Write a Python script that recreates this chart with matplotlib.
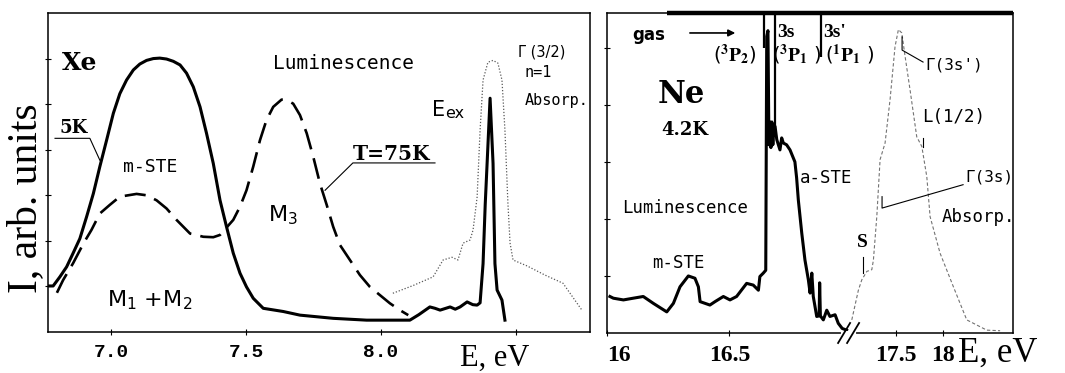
import numpy as np
import matplotlib
matplotlib.use("Agg")
import matplotlib.pyplot as plt

plt.rcParams['font.family'] = ['DejaVu Sans']

# ---------------- Xe panel data ----------------
# luminescence at 5 K (solid)
xe5_E = [6.768, 6.786, 6.811, 6.836, 6.860, 6.885, 6.910, 6.935, 6.959, 6.984,
         7.009, 7.033, 7.058, 7.083, 7.107, 7.132, 7.157, 7.181, 7.206, 7.231,
         7.256, 7.280, 7.305, 7.330, 7.354, 7.379, 7.404, 7.428, 7.453, 7.478,
         7.502, 7.527, 7.564, 7.638, 7.700, 7.823, 7.947, 8.107, 8.140, 8.181,
         8.200, 8.219, 8.256, 8.275, 8.293, 8.319, 8.340, 8.356, 8.367, 8.378,
         8.386, 8.393, 8.404, 8.415, 8.422, 8.430, 8.448, 8.459]
xe5_I = [1.01, 1.01, 1.21, 1.43, 1.73, 2.05, 2.53, 3.04, 3.63, 4.21,
         4.80, 5.23, 5.53, 5.75, 5.88, 5.96, 6.00, 6.01, 5.99, 5.94,
         5.86, 5.68, 5.38, 4.94, 4.36, 3.70, 2.89, 2.31, 1.73, 1.29,
         0.99, 0.74, 0.52, 0.45, 0.37, 0.30, 0.26, 0.26, 0.38, 0.55,
         0.52, 0.48, 0.55, 0.50, 0.55, 0.66, 0.60, 0.59, 0.64, 1.50,
         2.80, 3.70, 5.13, 3.70, 1.50, 0.92, 0.70, 0.26]

# luminescence at 75 K (dashed)
xe75_E = [6.800, 6.823, 6.860, 6.898, 6.928, 6.959, 6.996, 7.033, 7.095, 7.132,
          7.169, 7.206, 7.243, 7.293, 7.342, 7.379, 7.404, 7.453, 7.478, 7.502,
          7.527, 7.552, 7.576, 7.601, 7.632, 7.651, 7.675, 7.700, 7.725, 7.749,
          7.774, 7.799, 7.823, 7.848, 7.885, 7.922, 7.959, 7.996, 8.033, 8.070,
          8.101]
xe75_I = [0.86, 1.14, 1.51, 1.94, 2.24, 2.60, 2.79, 2.97, 3.03, 3.00,
          2.89, 2.71, 2.46, 2.16, 2.09, 2.08, 2.13, 2.46, 2.75, 3.11,
          3.63, 4.21, 4.65, 4.94, 5.10, 5.09, 5.01, 4.76, 4.36, 3.85,
          3.26, 2.79, 2.31, 1.91, 1.58, 1.25, 0.99, 0.81, 0.63, 0.48,
          0.37]

# absorption (dotted)
xeabs_E = [8.044, 8.119, 8.193, 8.230, 8.263, 8.285, 8.304, 8.330, 8.341, 8.356,
           8.367, 8.378, 8.396, 8.415, 8.433, 8.448, 8.459, 8.470, 8.478, 8.489,
           8.541, 8.607, 8.674, 8.744]
xeabs_I = [0.85, 1.02, 1.21, 1.58, 1.64, 1.58, 1.95, 2.02, 2.24, 2.96,
           4.43, 5.53, 5.92, 5.96, 5.90, 5.53, 4.43, 2.83, 1.95, 1.58,
           1.45, 1.25, 1.07, 0.48]

xe_ticks = [7.0, 7.5, 8.0, 8.5]
xe_ticklabels = ['7.0', '7.5', '8.0', '']

# ---------------- Ne panel data ----------------
ne_lum_E = [16.012, 16.026, 16.067, 16.107, 16.148, 16.189, 16.244, 16.271, 16.298, 16.332,
            16.359, 16.373, 16.380, 16.420, 16.441, 16.475, 16.502, 16.529, 16.570, 16.597,
            16.618, 16.624, 16.638, 16.648, 16.652, 16.657, 16.661, 16.665, 16.669, 16.673,
            16.677, 16.681, 16.686, 16.693, 16.706, 16.713, 16.720, 16.733, 16.747, 16.767,
            16.774, 16.781, 16.795, 16.808, 16.822, 16.829, 16.836, 16.842, 16.856, 16.866,
            16.868, 16.871, 16.883, 16.897, 16.910, 16.931, 16.944, 16.960, 16.978]
ne_lum_I = [0.64, 0.61, 0.58, 0.61, 0.64, 0.52, 0.37, 0.52, 0.81, 1.00,
            0.96, 0.81, 0.55, 0.49, 0.55, 0.64, 0.58, 0.64, 0.87, 0.84,
            0.75, 0.99, 1.05, 1.10, 5.20, 5.30, 3.30, 3.70, 3.25, 3.70,
            3.30, 3.65, 3.62, 3.39, 3.21, 3.42, 3.33, 3.30, 3.21, 3.00,
            2.72, 2.33, 1.75, 1.28, 0.93, 0.70, 1.05, 0.64, 0.29, 0.30,
            0.88, 0.30, 0.23, 0.40, 0.29, 0.32, 0.17, 0.08, 0.05]

ne_abs_E = [17.030, 17.100, 17.136, 17.190, 17.243, 17.260, 17.296, 17.331, 17.384, 17.437,
            17.490, 17.526, 17.562, 17.597, 17.650, 17.721, 17.775, 17.828, 17.863, 17.969,
            18.111, 18.253, 18.466, 18.608]
ne_abs_I = [0.23, 0.75, 0.93, 1.08, 1.11, 1.28, 2.04, 3.04, 3.33, 4.09,
            5.02, 5.32, 5.26, 4.85, 4.26, 3.44, 3.27, 2.74, 2.04, 1.40,
            0.81, 0.23, 0.05, 0.04]

# free-atom lines of Ne gas: (energy, lower end of marker)
gas_E = [16.640, 16.686, 16.873]
gas_low = [5.00, 3.50, 4.84]

ne_ticks = [16.0, 16.5, 17.5, 18.0]
ne_ticklabels = ['16', '16.5', '17.5', '18']

# piecewise-linear energy axis with a compressed part above the break
E_BREAK = 16.98


def fwd(e):
    e = np.asarray(e, dtype=float)
    return np.where(e <= E_BREAK, (e - 16.0) * 245.0,
                    (E_BREAK - 16.0) * 245.0 + (e - E_BREAK) * 94.0)


def inv(u):
    u = np.asarray(u, dtype=float)
    u0 = (E_BREAK - 16.0) * 245.0
    return np.where(u <= u0, 16.0 + u / 245.0, E_BREAK + (u - u0) / 94.0)


fig = plt.figure(figsize=(10.65, 3.73), dpi=100)
ax1 = fig.add_axes([0.04507, 0.10992, 0.50892, 0.85523])
ax2 = fig.add_axes([0.56995, 0.10724, 0.38122, 0.85791])

serif = 'Liberation Serif'
bserif = 'DejaVu Serif'
mono = 'DejaVu Sans Mono'

# ---------------- Xe ----------------
ax1.plot(xe5_E, xe5_I, color='black', lw=2.2, solid_joinstyle='round')
ax1.plot(xe75_E, xe75_I, color='black', lw=1.9, linestyle=(0, (8, 3.5)))
ax1.plot(xeabs_E, xeabs_I, color='0.35', lw=0.9, linestyle=(0, (1, 1.5)))
ax1.set_xlim(6.767, 8.774)
ax1.set_ylim(0, 7.0)
ax1.set_xticks(xe_ticks)
ax1.set_xticklabels(xe_ticklabels, family='Liberation Mono', weight='bold', fontsize=14)
ax1.set_yticks([1, 2, 3, 4, 5, 6])
ax1.set_yticklabels([])
ax1.tick_params(direction='inout', length=5, width=0.8, pad=6)

ax1.text(6.819, 5.9, 'Xe', family=bserif, weight='bold', fontsize=18, va='center')
ax1.text(7.60, 5.9, 'Luminescence', family=mono, fontsize=14, va='center')
ax1.text(6.808, 4.47, '5K', family=bserif, weight='bold', fontsize=13, va='center')
ax1.plot([6.793, 6.922, 6.959], [4.25, 4.25, 3.77], color='black', lw=0.8)
ax1.text(7.144, 3.62, 'm-STE', family=mono, fontsize=13, ha='center', va='center')
ax1.text(6.985, 0.70, r'M$_1$ +M$_2$', fontsize=16, va='center')
ax1.text(7.581, 2.57, r'M$_3$', fontsize=16, va='center')
ax1.text(7.896, 3.90, 'T=75K', family=bserif, weight='bold', fontsize=14.5, va='center')
ax1.plot([8.20, 7.896, 7.793], [3.71, 3.71, 3.11], color='black', lw=0.8)
ax1.text(8.189, 4.87, 'E', fontsize=15, va='center')
ax1.text(8.237, 4.80, 'ex', fontsize=11.5, va='center')
ax1.text(8.507, 6.14, 'Γ (3/2)', fontsize=10.5, va='center')
ax1.text(8.533, 5.70, 'n=1', family=mono, fontsize=11, va='center')
ax1.text(8.533, 5.07, 'Absorp.', family=mono, fontsize=11, va='center')
ax1.text(8.42, -0.57, 'E, eV', family=serif, fontsize=22, ha='center', va='center')

# ---------------- Ne ----------------
ax2.set_xscale('function', functions=(fwd, inv))
ax2.set_xlim(16.0, 18.745)
ne_top = 5.61
ax2.set_ylim(0, ne_top)

ax2.plot(ne_lum_E, ne_lum_I, color='black', lw=2.2, solid_joinstyle='round')
ax2.plot(ne_abs_E, ne_abs_I, color='0.45', lw=0.8, linestyle=(0, (3, 2)))
ax2.vlines(gas_E, gas_low, ne_top, color='black', lw=1.6)
ax2.plot([16.245, 18.745], [ne_top, ne_top], color='black', lw=3.2,
         solid_capstyle='butt', clip_on=False, zorder=5)

ax2.set_xticks(ne_ticks)
ax2.set_xticklabels(ne_ticklabels, family=serif, weight='bold', fontsize=17)
ax2.get_xticklabels()[0].set_horizontalalignment('left')
ax2.set_yticks([1, 2, 3, 4, 5])
ax2.set_yticklabels([])
ax2.tick_params(direction='inout', length=5, width=0.8, pad=6)

for a in (ax1, ax2):
    for s in a.spines.values():
        s.set_linewidth(1.1)

# axis break marks on the energy axis
uf = float((fwd(E_BREAK) - fwd(16.0)) / (fwd(18.745) - fwd(16.0)))
ax2.plot([uf - 4 / 406, uf + 7 / 406], [0, 0], color='white', lw=3,
         transform=ax2.transAxes, clip_on=False, zorder=6)
for off in (-9, 0):
    ax2.plot([uf + off / 406, uf + (off + 12) / 406], [-10 / 320, 10 / 320],
             color='black', lw=1.3, transform=ax2.transAxes, clip_on=False, zorder=7)

ax2.text(16.102, 5.23, 'gas', fontsize=12, weight='bold', va='center')
ax2.annotate('', xy=(16.535, 5.26), xytext=(16.327, 5.26),
             arrowprops=dict(arrowstyle='-|>', color='black', lw=1.2, mutation_scale=10))
ax2.text(16.694, 5.26, '3s', family=serif, weight='bold', fontsize=14, va='center')
ax2.text(16.882, 5.26, "3s'", family=serif, weight='bold', fontsize=14, va='center')
ax2.text(16.433, 4.88, r'($^{\mathbf{3}}\mathbf{P}_{\mathbf{2}}$)', fontsize=14,
         math_fontfamily='stix', va='center')
ax2.text(16.673, 4.88, r'($^{\mathbf{3}}\mathbf{P}_{\mathbf{1}}$ )', fontsize=14,
         math_fontfamily='stix', va='center')
ax2.text(16.890, 4.88, r'($^{\mathbf{1}}\mathbf{P}_{\mathbf{1}}$ )', fontsize=14,
         math_fontfamily='stix', va='center')
ax2.text(16.302, 4.18, 'Ne', family=bserif, weight='bold', fontsize=22, ha='center', va='center')
ax2.text(16.318, 3.56, '4.2K', family=bserif, weight='bold', fontsize=13, ha='center', va='center')
ax2.text(16.061, 2.19, 'Luminescence', family=mono, fontsize=12.5, va='center')
ax2.text(16.184, 1.23, 'm-STE', family=mono, fontsize=12.5, va='center')
ax2.text(16.788, 2.72, 'a-STE', family=mono, fontsize=12.5, va='center')
ax2.text(17.14, 1.58, 'S', family=serif, weight='bold', fontsize=14, ha='center', va='center')
ax2.plot([17.15, 17.15], [1.33, 1.05], color='black', lw=0.8)
ax2.text(17.81, 4.70, "Γ(3s')", family=mono, fontsize=11.5, va='center')
ax2.plot([17.565, 17.565, 17.788], [5.19, 4.96, 4.75], color='black', lw=0.8)
ax2.text(17.778, 3.79, 'L(1/2)', family=mono, fontsize=12.5, va='center')
ax2.plot([17.785, 17.785], [3.42, 3.26], color='black', lw=0.8)
ax2.text(18.235, 2.74, 'Γ(3s)', family=mono, fontsize=11.5, va='center')
ax2.plot([18.214, 17.352, 17.352], [2.60, 2.19, 2.39], color='black', lw=0.8)
ax2.text(17.99, 2.04, 'Absorp.', family=mono, fontsize=12.5, va='center')

fig.text(958 / 1065, 1 - 353 / 373, 'E, eV', family=serif, fontsize=25, ha='left', va='center')
fig.text(26 / 1065, 1 - 198 / 373, 'I, arb. units', family=serif, fontsize=30,
         rotation=90, ha='center', va='center')

fig.savefig('out.png', dpi=100)
